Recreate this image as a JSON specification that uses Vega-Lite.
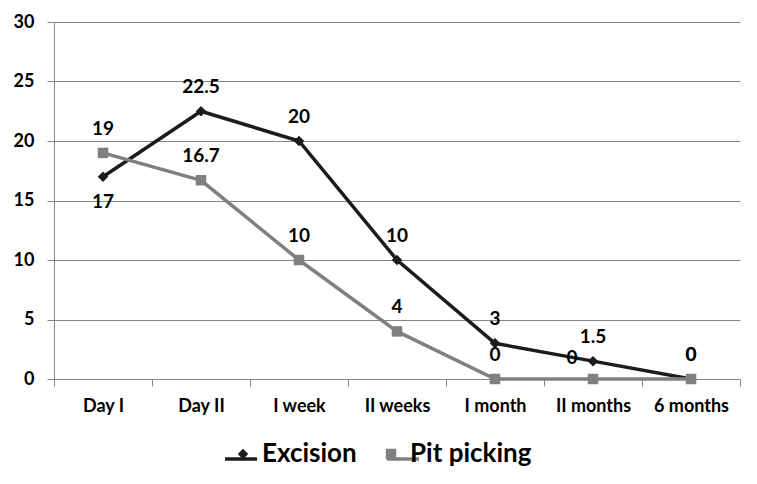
{
  "$schema": "https://vega.github.io/schema/vega-lite/v6.json",
  "width": 686,
  "height": 357,
  "autosize": {"type": "none"},
  "padding": {"left": 54, "top": 22, "right": 17, "bottom": 105},
  "background": "white",
  "config": {
    "view": {"stroke": null},
    "font": "Lato",
    "axis": {"labelFont": "Lato", "labelFontWeight": "bold", "labelColor": "#000000", "labelFontSize": 18},
    "legend": {"labelFont": "Lato"}
  },
  "data": {
    "values": [
      {"period": "Day I", "series": "Excision", "value": 17},
      {"period": "Day II", "series": "Excision", "value": 22.5},
      {"period": "I week", "series": "Excision", "value": 20},
      {"period": "II weeks", "series": "Excision", "value": 10},
      {"period": "I month", "series": "Excision", "value": 3},
      {"period": "II months", "series": "Excision", "value": 1.5},
      {"period": "6 months", "series": "Excision", "value": 0},
      {"period": "Day I", "series": "Pit picking", "value": 19},
      {"period": "Day II", "series": "Pit picking", "value": 16.7},
      {"period": "I week", "series": "Pit picking", "value": 10},
      {"period": "II weeks", "series": "Pit picking", "value": 4},
      {"period": "I month", "series": "Pit picking", "value": 0},
      {"period": "II months", "series": "Pit picking", "value": 0},
      {"period": "6 months", "series": "Pit picking", "value": 0}
    ]
  },
  "encoding": {
    "x": {
      "field": "period",
      "type": "nominal",
      "sort": ["Day I", "Day II", "I week", "II weeks", "I month", "II months", "6 months"],
      "scale": {"type": "band", "paddingInner": 0, "paddingOuter": 0},
      "axis": {
        "title": null,
        "labelAngle": 0,
        "tickBand": "extent",
        "tickSize": 7,
        "tickColor": "#868686",
        "domainColor": "#868686",
        "labelPadding": 11,
        "grid": false
      }
    },
    "y": {
      "field": "value",
      "type": "quantitative",
      "scale": {"domain": [0, 30]},
      "axis": {
        "title": null,
        "values": [0, 5, 10, 15, 20, 25, 30],
        "tickSize": 7,
        "tickColor": "#868686",
        "domainColor": "#868686",
        "gridColor": "#868686",
        "gridOpacity": 1,
        "labelPadding": 13
      }
    }
  },
  "resolve": {"legend": {"color": "independent", "shape": "independent"}},
  "layer": [
    {
      "mark": {"type": "line", "strokeWidth": 3.5},
      "encoding": {
        "color": {
          "field": "series",
          "type": "nominal",
          "scale": {"domain": ["Excision", "Pit picking"], "range": ["#1c1c1c", "#808080"]},
          "legend": {
            "title": null,
            "orient": "none",
            "legendX": 169,
            "legendY": 419,
            "direction": "horizontal",
            "labelFontSize": 26,
            "labelExpr": "''",
            "symbolType": "stroke",
            "symbolSize": 1024,
            "symbolStrokeWidth": 3.5,
            "columnPadding": 116,
            "labelOffset": 0
          }
        }
      }
    },
    {
      "mark": {"type": "point", "filled": true, "opacity": 1, "size": 110},
      "encoding": {
        "color": {
          "field": "series",
          "type": "nominal",
          "scale": {"domain": ["Excision", "Pit picking"], "range": ["#1c1c1c", "#808080"]},
          "legend": {
            "title": null,
            "orient": "none",
            "legendX": 176,
            "legendY": 419,
            "direction": "horizontal",
            "labelFontSize": 26,
            "labelFontWeight": "bold",
            "labelColor": "#000000",
            "symbolSize": 110,
            "columnPadding": 21,
            "labelOffset": 6
          }
        },
        "shape": {
          "field": "series",
          "type": "nominal",
          "scale": {"domain": ["Excision", "Pit picking"], "range": ["diamond", "square"]},
          "legend": {
            "title": null,
            "orient": "none",
            "legendX": 176,
            "legendY": 419,
            "direction": "horizontal",
            "labelFontSize": 26,
            "labelFontWeight": "bold",
            "labelColor": "#000000",
            "symbolSize": 110,
            "columnPadding": 21,
            "labelOffset": 6
          }
        }
      }
    },
    {
      "transform": [{"filter": "!(datum.series == 'Excision' && datum.period == 'Day I') && !(datum.series == 'Pit picking' && datum.period == 'II months')"}],
      "mark": {"type": "text", "dy": -24, "fontSize": 19, "fontWeight": "bold", "baseline": "middle"},
      "encoding": {"text": {"field": "value"}, "color": {"value": "#000000"}}
    },
    {
      "transform": [{"filter": "datum.series == 'Excision' && datum.period == 'Day I'"}],
      "mark": {"type": "text", "dy": 25, "fontSize": 19, "fontWeight": "bold", "baseline": "middle"},
      "encoding": {"text": {"field": "value"}, "color": {"value": "#000000"}}
    },
    {
      "transform": [{"filter": "datum.series == 'Pit picking' && datum.period == 'II months'"}],
      "mark": {"type": "text", "dx": -21, "dy": -21, "fontSize": 19, "fontWeight": "bold", "baseline": "middle"},
      "encoding": {"text": {"field": "value"}, "color": {"value": "#000000"}}
    }
  ]
}
